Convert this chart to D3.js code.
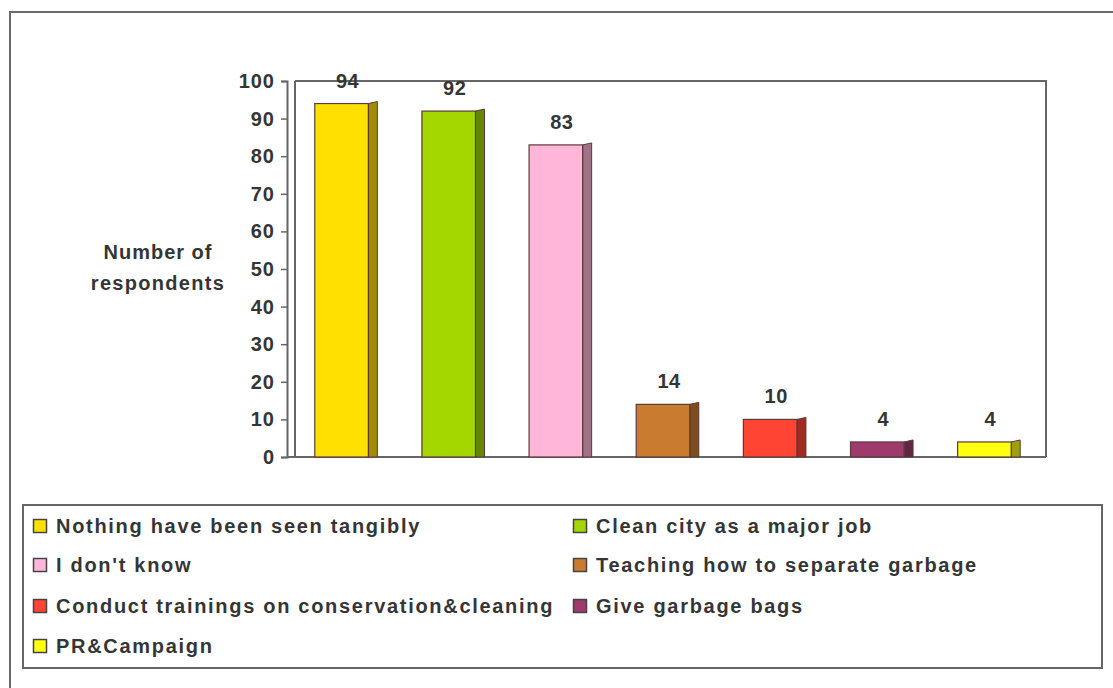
<!DOCTYPE html>
<html>
<head>
<meta charset="utf-8">
<script src="https://cdn.jsdelivr.net/npm/d3@7"></script>
<style>
  body { margin: 0; background: #fff; }
  svg { display: block; }
  text { font-family: "Liberation Sans", Arial, sans-serif; font-weight: bold; fill: #353535; }
</style>
</head>
<body>
<div id="chart"></div>
<script>
// data
const categories = [
    "Nothing have been seen tangibly",
    "Clean city as a major job",
    "I don't know",
    "Teaching how to separate garbage",
    "Conduct trainings on conservation&cleaning",
    "Give garbage bags",
    "PR&Campaign"
];
const values = [94, 92, 83, 14, 10, 4, 4];
const yTicks = [0, 10, 20, 30, 40, 50, 60, 70, 80, 90, 100];

// palette
const colors = ["#FFE000", "#A4D600", "#FFB6D8", "#C97B30", "#FF4433", "#9E3B6C", "#FFFF10"];

const W = 1113, H = 688;
const svg = d3.select("#chart").append("svg")
    .attr("width", W)
    .attr("height", H);

// outer frame
svg.append("rect")
    .attr("x", 10).attr("y", 12)
    .attr("width", 1120).attr("height", 700)
    .attr("fill", "none")
    .attr("stroke", "#6a6a6a")
    .attr("stroke-width", 2);

// scales
const x = d3.scaleBand()
    .domain(categories)
    .range([288, 1038])
    .paddingInner(0.5)
    .paddingOuter(0.25);

const y = d3.scaleLinear()
    .domain([0, 100])
    .range([457, 81]);

const depth = 9, lift = 2;

// plot frame (back wall + floor edges)
const frame = svg.append("g").attr("stroke", "#666").attr("stroke-width", 2).attr("fill", "none");
frame.append("path")
    .attr("d", `M295,${y(100)} H1046 V${y(0)}`);
frame.append("line")
    .attr("x1", 295).attr("x2", 295)
    .attr("y1", y(100)).attr("y2", y(0));

// y axis
const yAxis = d3.axisLeft(y)
    .tickValues(yTicks)
    .tickSize(6)
    .tickPadding(6);

const yg = svg.append("g")
    .attr("transform", "translate(287,0)")
    .call(yAxis);
yg.select(".domain").attr("stroke", "#666").attr("stroke-width", 2);
yg.selectAll(".tick line").attr("stroke", "#666").attr("stroke-width", 1.5);
yg.selectAll(".tick text")
    .attr("font-size", "20px")
    .attr("font-family", "Liberation Sans, Arial, sans-serif")
    .attr("font-weight", "bold")
    .attr("letter-spacing", "1px")
    .attr("fill", "#353535");

// baseline
svg.append("line")
    .attr("x1", 287).attr("x2", 1046)
    .attr("y1", y(0)).attr("y2", y(0))
    .attr("stroke", "#666").attr("stroke-width", 2);

// axis title
svg.append("text")
    .attr("x", 158).attr("y", 259)
    .attr("text-anchor", "middle")
    .attr("font-size", "20px")
    .attr("letter-spacing", "1px")
    .text("Number of");
svg.append("text")
    .attr("x", 158).attr("y", 290)
    .attr("text-anchor", "middle")
    .attr("font-size", "20px")
    .attr("letter-spacing", "1.3px")
    .text("respondents");

// bars with a little 3D side face
const bars = svg.append("g").selectAll("g.bar")
    .data(categories)
    .enter()
    .append("g")
    .attr("class", "bar");

bars.append("path")
    .attr("d", (d, i) => {
        const x1 = x(d) + x.bandwidth();
        const y0 = y(values[i]), yb = y(0);
        return `M${x1},${y0} L${x1 + depth},${y0 - lift} L${x1 + depth},${yb} L${x1},${yb} Z`;
    })
    .attr("fill", (d, i) => d3.color(colors[i]).darker(1.3))
    .attr("stroke", "#5a3a3a")
    .attr("stroke-width", 1);

bars.append("rect")
    .attr("x", d => x(d))
    .attr("y", (d, i) => y(values[i]))
    .attr("width", x.bandwidth())
    .attr("height", (d, i) => y(0) - y(values[i]))
    .attr("fill", (d, i) => colors[i])
    .attr("stroke", "#5a3a3a")
    .attr("stroke-width", 1.2);

// value labels
bars.append("text")
    .attr("x", d => x(d) + x.bandwidth() / 2 + 6)
    .attr("y", (d, i) => y(values[i]) - 16)
    .attr("text-anchor", "middle")
    .attr("font-size", "20px")
    .attr("letter-spacing", "0.5px")
    .text((d, i) => values[i]);

// legend
svg.append("rect")
    .attr("x", 23).attr("y", 505)
    .attr("width", 1079).attr("height", 163)
    .attr("fill", "none")
    .attr("stroke", "#666")
    .attr("stroke-width", 2);

const legendCols = [33, 573];
const legendRows = [526, 565, 606, 646];

const legend = svg.append("g").selectAll("g.legend-item")
    .data(categories)
    .enter()
    .append("g")
    .attr("class", "legend-item")
    .attr("transform", (d, i) => `translate(${legendCols[i % 2]},${legendRows[Math.floor(i / 2)]})`);

legend.append("rect")
    .attr("x", 0.5).attr("y", -6.5)
    .attr("width", 13).attr("height", 13)
    .attr("fill", (d, i) => colors[i])
    .attr("stroke", "#444")
    .attr("stroke-width", 1.5);

legend.append("text")
    .attr("x", 23)
    .attr("y", 7)
    .attr("font-size", "20px")
    .attr("letter-spacing", "1.7px")
    .text(d => d);
</script>
</body>
</html>
